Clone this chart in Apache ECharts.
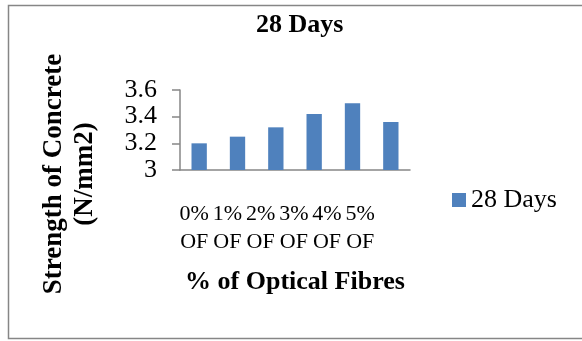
<!DOCTYPE html>
<html>
<head>
<meta charset="utf-8">
<script src="https://cdn.jsdelivr.net/npm/echarts@6/dist/echarts.min.js"></script>
<style>
html,body{margin:0;padding:0;background:#fff;}
#c{width:582px;height:341px;}
</style>
</head>
<body>
<div id="c"></div>
<script>
var titleText = '28 Days';
var seriesName = '28 Days';
var categories = ['0% OF', '1% OF', '2% OF', '3% OF', '4% OF', '5% OF'];
var values = [3.2, 3.25, 3.32, 3.42, 3.5, 3.36];
var yTicks = { min: 3, max: 3.6, interval: 0.2 };
var xAxisName = '% of Optical Fibres';
var yAxisName = 'Strength of Concrete\n(N/mm2)';

var FONT = 'Liberation Serif';
var chart = echarts.init(document.getElementById('c'));
chart.setOption({
  animation: false,
  backgroundColor: '#fff',
  title: {
    text: titleText,
    left: 251, top: 7,
    textStyle: { fontFamily: FONT, fontSize: 26, fontWeight: 'bold', color: '#000' }
  },
  legend: {
    data: [seriesName],
    left: 447, top: 182,
    itemWidth: 14, itemHeight: 14, itemGap: 5,
    icon: 'rect',
    textStyle: { fontFamily: FONT, fontSize: 26, color: '#000' }
  },
  grid: [
    { left: 180, right: 172, top: 90, bottom: 171 },
    { left: 177.6, width: 199.2, top: 90, bottom: 171 }
  ],
  xAxis: [
    {
      type: 'category', gridIndex: 0, data: categories,
      axisLine: { lineStyle: { color: '#868686', width: 1.5 } },
      axisTick: { show: false },
      axisLabel: { show: false },
      name: xAxisName, nameLocation: 'middle', nameGap: 99,
      nameTextStyle: { fontFamily: FONT, fontSize: 26, fontWeight: 'bold', color: '#000' }
    },
    {
      type: 'category', gridIndex: 1, data: categories,
      axisLine: { show: false }, axisTick: { show: false },
      axisLabel: {
        fontFamily: FONT, fontSize: 22, color: '#000', lineHeight: 28, margin: 30,
        interval: 0,
        formatter: function (v) { return v.replace(' ', '\n'); }
      }
    }
  ],
  yAxis: [
    {
      type: 'value', gridIndex: 0, min: yTicks.min, max: yTicks.max, interval: yTicks.interval,
      axisLine: { show: true, lineStyle: { color: '#868686', width: 1.5 } },
      axisTick: { show: true, length: 8, lineStyle: { color: '#868686', width: 1.5 } },
      splitLine: { show: false },
      axisLabel: { fontFamily: FONT, fontSize: 26, color: '#000', margin: 23 }
    },
    { type: 'value', gridIndex: 1, show: false }
  ],
  series: [{
    name: seriesName, type: 'bar', xAxisIndex: 0, yAxisIndex: 0,
    data: values, barWidth: '40%',
    itemStyle: { color: '#4F81BD' }
  }],
  graphic: [
    {
      type: 'rect', silent: true,
      shape: { x: 8.5, y: 5.5, width: 600, height: 333 },
      style: { fill: 'none', stroke: '#868686', lineWidth: 1.5 }
    },
    {
      type: 'text', x: 70, y: 174, rotation: Math.PI / 2,
      style: {
        text: yAxisName, align: 'center', verticalAlign: 'middle',
        font: 'bold 27px "Liberation Serif"', lineHeight: 31, fill: '#000'
      }
    }
  ]
});
</script>
</body>
</html>
